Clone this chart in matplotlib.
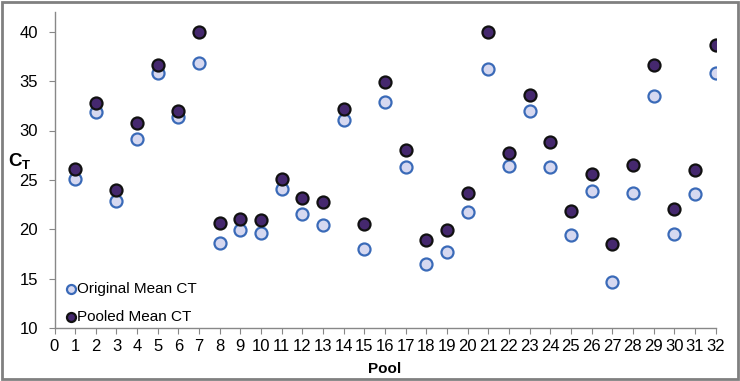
import matplotlib.pyplot as plt
from matplotlib.patches import Rectangle

pools = list(range(1, 33))
original_ct = [25.1, 31.9, 22.9, 29.15, 35.8, 31.4, 36.8, 18.65, 19.9, 19.6,
               24.1, 21.5, 20.4, 31.1, 18.0, 32.9, 26.3, 16.5, 17.7, 21.7,
               36.2, 26.4, 32.0, 26.3, 19.4, 23.9, 14.7, 23.7, 33.5, 19.5,
               23.6, 35.85]
pooled_ct = [26.1, 32.8, 24.0, 30.8, 36.6, 32.0, 40.0, 20.6, 21.05, 20.95,
             25.1, 23.2, 22.8, 32.15, 20.5, 34.9, 28.0, 18.9, 19.9, 23.7,
             40.0, 27.7, 33.6, 28.85, 21.8, 25.6, 18.5, 26.5, 36.6, 22.1,
             26.05, 38.7]
xticks = list(range(0, 33))
yticks = [10, 15, 20, 25, 30, 35, 40]

plt.rcParams['font.family'] = ['Liberation Sans', 'DejaVu Sans']

fig = plt.figure(figsize=(7.4, 3.81), dpi=100)
ax = fig.add_axes([54.5 / 740, 53 / 381, (715.5 - 54.5) / 740, (369 - 53) / 381])

ax.scatter(pools, original_ct, s=75, facecolor='#d6d8f0', edgecolor='#3a6ab8',
           linewidth=1.6, zorder=3, label='Original Mean CT')
ax.scatter(pools, pooled_ct, s=75, facecolor='#45286e', edgecolor='#111111',
           linewidth=1.6, zorder=4, label='Pooled Mean CT')

ax.set_xlim(0, 32)
ax.set_ylim(10, 42)
ax.set_xticks(xticks)
ax.set_yticks(yticks)
ax.tick_params(axis='both', direction='out', length=4, color='#888888',
               labelsize=12, pad=4)
ax.tick_params(axis='y', pad=8)
for side in ['top', 'right']:
    ax.spines[side].set_visible(False)
for side in ['left', 'bottom']:
    ax.spines[side].set_color('#888888')
    ax.spines[side].set_linewidth(1.0)

ax.set_xlabel('Pool', fontsize=11, fontweight='bold', labelpad=6)
fig.text(8 / 740, 1 - 162 / 381, r'C$_\mathregular{T}$', fontsize=13.5,
         fontweight='bold', ha='left', va='center')

leg = fig.legend(loc='center left', bbox_to_anchor=(62 / 740, 1 - 303 / 381),
                 frameon=False, fontsize=11, handletextpad=-0.2,
                 markerscale=0.75, labelspacing=0.9, borderaxespad=0.0,
                 handlelength=1.2, borderpad=0.0)

fig.patches.append(Rectangle((0.003, 0.005), 0.994, 0.99, transform=fig.transFigure,
                             fill=False, edgecolor='#808080', linewidth=2))

fig.savefig('out.png', dpi=100)
